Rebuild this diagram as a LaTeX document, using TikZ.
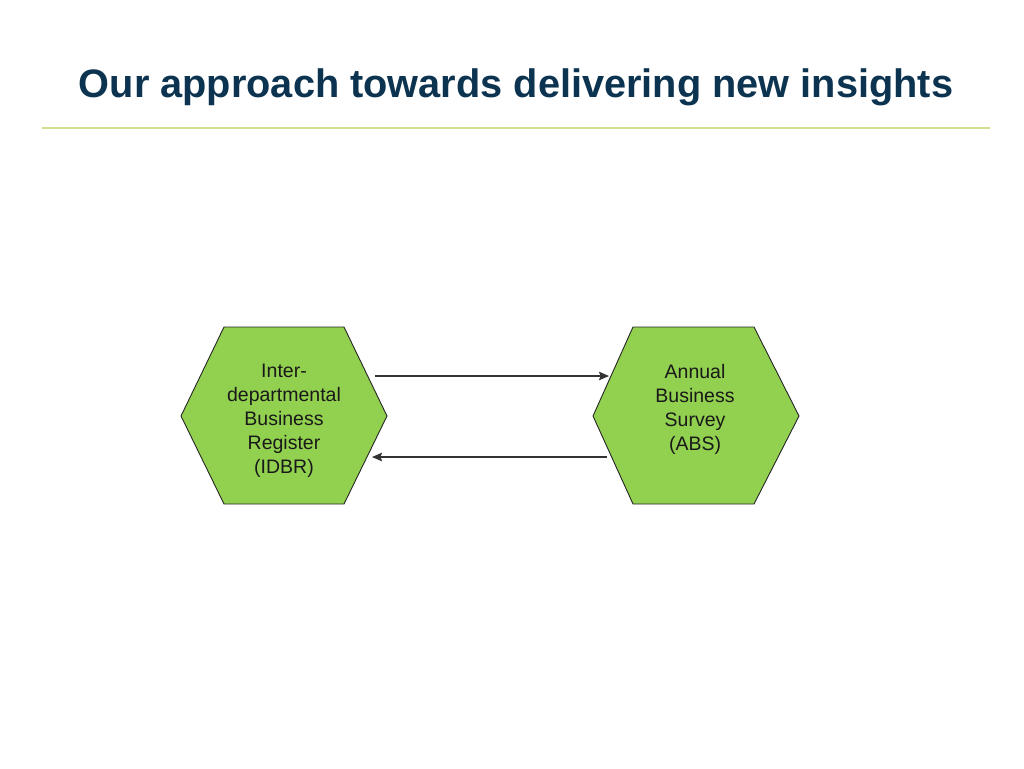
\documentclass[tikz,border=0pt]{standalone}
\usepackage{fontspec}
\setmainfont{Liberation Sans}
\usetikzlibrary{arrows.meta}
\definecolor{titleblue}{RGB}{12,52,80}
\definecolor{rulegreen}{RGB}{214,222,140}
\definecolor{hexgreen}{RGB}{146,208,80}
\begin{document}
\begin{tikzpicture}[x=1pt,y=-1pt,
  hexshape/.style={fill=hexgreen,draw=black!85,line width=0.9pt,line join=miter},
  lbl/.style={align=center,inner sep=0pt,font=\fontsize{19.5}{24}\selectfont,text=black!90},
  conn/.style={draw=black!80,line width=1.1pt,-{Stealth[length=10pt,width=8.5pt,inset=1.5pt]}}]
\useasboundingbox (0,0) rectangle (1024,768);
\fill[white] (0,0) rectangle (1024,768);
% title
\node[anchor=base,inner sep=0pt,text=titleblue] (title) at (516,97)
  {\resizebox{874pt}{!}{\bfseries Our approach towards delivering new insights}};
\draw[rulegreen,line width=1.5pt] (42,128) -- (990,128);
% hexagons
\draw[hexshape] (181,416) -- (224,327) -- (344,327) -- (387,416) -- (344,504) -- (224,504) -- cycle;
\draw[hexshape] (593,416) -- (633,327) -- (754,327) -- (799,416) -- (754,504) -- (633,504) -- cycle;
\node[lbl] (idbr) at (284,421) {Inter-\\departmental\\Business\\Register\\(IDBR)};
\node[lbl] (abs) at (695,409) {Annual\\Business\\Survey\\(ABS)};
% connector endpoints
\coordinate (a1) at (375,376);
\coordinate (a2) at (609,376);
\coordinate (b1) at (607,457);
\coordinate (b2) at (372,457);
\draw[conn] (a1) -- (a2);
\draw[conn] (b1) -- (b2);
\end{tikzpicture}
\end{document}
